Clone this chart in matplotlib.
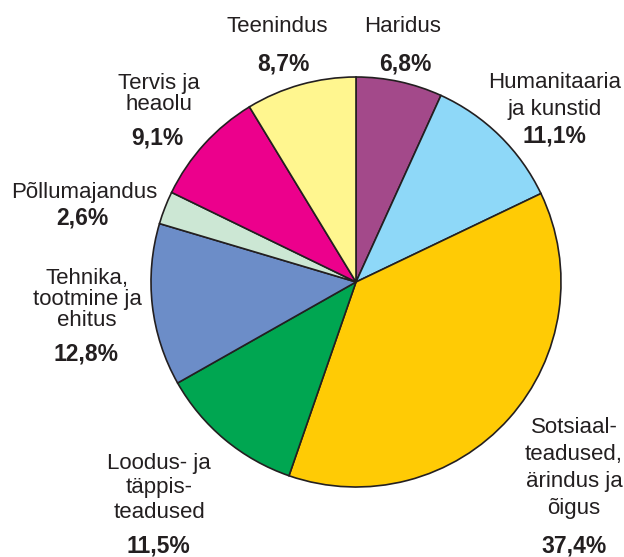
import matplotlib
matplotlib.use("Agg")
import matplotlib.pyplot as plt

# Data: share of graduates by field (%), clockwise from the top
fields = [
    "Haridus",
    "Humanitaaria\nja kunstid",
    "Sotsiaal-\nteadused,\närindus ja\nõigus",
    "Loodus- ja\ntäppis-\nteadused",
    "Tehnika,\ntootmine ja\nehitus",
    "Põllumajandus",
    "Tervis ja\nheaolu",
    "Teenindus",
]
shares = [6.8, 11.1, 37.4, 11.5, 12.8, 2.6, 9.1, 8.7]
pct_labels = ["6,8%", "11,1%", "37,4%", "11,5%", "12,8%", "2,6%", "9,1%", "8,7%"]
colors = ["#A3498A", "#8ED8F8", "#FFCB05", "#00A651",
          "#6C8DC8", "#CCE7D4", "#EC008C", "#FFF68F"]

# label layout in image pixels: (x centre, first baseline, line step, pct x, pct baseline)
label_pos = [
    (403, 32, 0, 405, 70),
    (555, 88, 27, 554, 143),
    (574, 433, 27, 574, 553),
    (159, 469, 24.5, 158, 553),
    (87, 284, 21, 86, 360),
    (84, 198, 0, 82, 224),
    (159, 89, 21, 157, 145),
    (277, 32, 0, 283, 70),
]

W, H = 624, 557
text_color = "#231F20"
plt.rcParams["font.family"] = ["Liberation Sans", "DejaVu Sans"]

fig = plt.figure(figsize=(W / 100, H / 100), dpi=100)
ax = fig.add_axes([0, 0, 1, 1])

ax.pie(shares, colors=colors, startangle=90, counterclock=False,
       center=(356, H - 282), radius=205,
       wedgeprops=dict(edgecolor=text_color, linewidth=1.2))

ax.set_xlim(0, W)
ax.set_ylim(0, H)
ax.set_aspect("equal")
ax.axis("off")

# category names and bold percentages
for name, pct, (x, y0, step, px, py) in zip(fields, pct_labels, label_pos):
    for i, line in enumerate(name.split("\n")):
        ax.text(x, H - (y0 + i * step), line, ha="center", va="baseline",
                fontsize=16, color=text_color)
    ax.text(px, H - py, pct, ha="center", va="baseline",
            fontsize=16.5, fontweight="bold", color=text_color)

fig.savefig("out.png", dpi=100)
